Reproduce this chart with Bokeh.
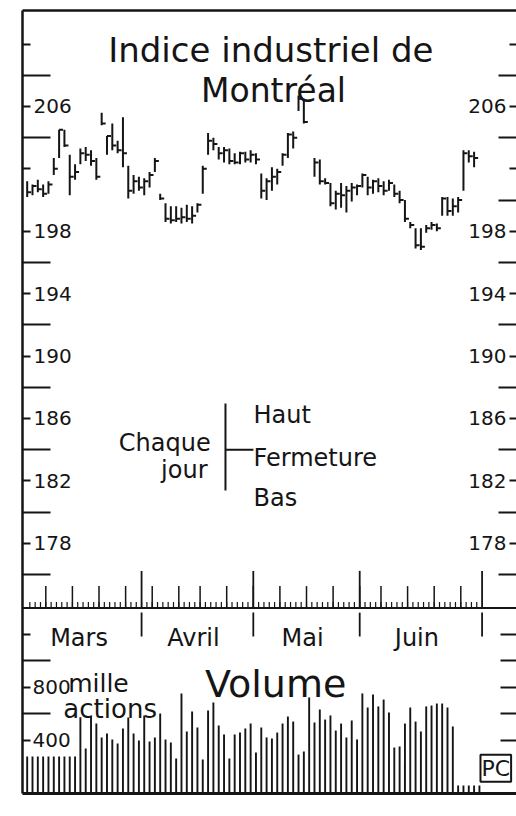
import numpy as np
from bokeh.plotting import figure
from bokeh.models import (Range1d, LinearAxis, FixedTicker, CustomJSTickFormatter,
                          ColumnDataSource, Span, Label, Arrow, Grid)
from bokeh.core.properties import value
from bokeh.embed import file_html
from bokeh.resources import INLINE

# ---------------- data ----------------
months = ["Mars", "Avril", "Mai", "Juin"]
month_days = [22, 21, 20, 23]                      # trading days per month
week_days = [4, 5, 5, 5, 5, 5, 4, 5, 5, 5, 5, 5, 5, 4, 5, 5, 5, 4]

high = [201.2, 201.0, 201.3, 201.0, 201.2, 202.7, 204.5, 204.5, 202.9, 202.3,
        203.3, 203.4, 203.2, 202.7, 205.6, 204.1, 204.9, 203.8, 205.3, 202.2,
        201.6, 201.5, 201.4, 201.8, 202.7, 200.4, 199.8, 199.6, 199.6, 199.5,
        199.7, 199.6, 199.8, 202.2, 204.3, 204.0, 203.4, 203.4, 203.3, 203.0,
        203.1, 203.1, 203.2, 203.0, 201.7, 201.4, 202.1, 202.0, 203.0, 204.3,
        204.4, 206.7, 206.5, None, 202.7, 202.6, 201.4, 201.1, 200.6, 201.1,
        200.9, 201.1, 201.0, 201.7, 201.5, 201.3, 201.4, 201.2, 201.3, 201.0,
        200.6, 200.0, 198.6, 198.2, 198.2, 198.4, 198.6, 198.5, 200.2, 200.2,
        200.1, 200.2, 203.2, 203.2, 203.1, None]
low = [200.2, 200.3, 200.5, 200.2, 200.4, 201.6, 202.7, 203.4, 200.3, 201.3,
       202.3, 202.5, 202.2, 201.3, 204.8, 202.9, 203.2, 203.0, 202.1, 200.1,
       200.4, 200.6, 200.3, 200.8, 201.8, 200.0, 198.6, 198.5, 198.6, 198.5,
       198.6, 198.5, 199.2, 200.4, 202.9, 203.2, 202.6, 202.4, 202.3, 202.3,
       202.3, 202.4, 202.4, 202.3, 200.1, 200.0, 200.6, 201.0, 202.2, 202.7,
       203.3, 205.7, 204.9, None, 201.5, 201.0, 201.0, 199.6, 199.4, 199.5,
       199.2, 199.9, 200.3, 200.8, 200.3, 200.4, 200.5, 200.3, 200.6, 200.2,
       199.8, 198.6, 198.2, 196.9, 196.8, 197.9, 198.1, 198.0, 199.0, 199.0,
       199.0, 199.2, 200.6, 202.4, 202.1, None]
close = [200.5, 200.9, 200.7, 200.4, 201.0, 202.0, 204.5, 203.5, 201.5, 201.8,
         203.0, 202.9, 202.5, 201.5, 204.9, 204.1, 203.5, 203.2, 203.0, 200.6,
         201.2, 200.8, 201.2, 201.6, 202.5, 200.1, 198.8, 198.7, 198.8, 198.9,
         198.8, 199.0, 199.7, 202.0, 203.8, 203.6, 203.0, 203.2, 202.5, 202.4,
         203.0, 202.6, 202.9, 202.6, 200.6, 201.2, 201.5, 201.8, 202.9, 204.2,
         204.0, 206.5, 205.0, None, 202.4, 201.2, 201.1, 199.8, 200.4, 200.3,
         200.6, 200.8, 200.9, 201.6, 200.8, 201.2, 200.9, 200.6, 201.1, 200.4,
         200.0, 198.8, 198.4, 197.1, 197.0, 198.2, 198.4, 198.2, 200.1, 199.3,
         199.6, 200.0, 203.0, 202.8, 202.7, None]
volume = [280, 280, 280, 280, 280, 280, 280, 280, 280, 280,
          576, 340, 581, 528, 423, 453, 408, 377, 490, 574,
          453, 400, 589, 392, 423, 604, 408, 385, 264, 755,
          468, 619, 498, 257, 626, 687, 513, 445, 264, 445,
          460, 490, 528, 309, 498, 423, 415, 460, 528, 581,
          543, 294, 317, 725, 536, 634, 558, 589, 475, 528,
          423, 551, 408, 755, 649, 747, 657, 709, 611, 347,
          355, 528, 649, 543, 468, 657, 664, 679, 679, 649,
          506, 60, 60, 60, 60, 60]                 # milliers d'actions

price_labels = [206, 198, 194, 190, 186, 182, 178]
price_short_ticks = [178, 182, 186, 190, 194, 198, 202, 206, 210]
price_long_ticks_left = [176, 180, 184, 188, 192, 196, 204, 208]
price_long_ticks_right = [176, 180, 184, 188, 192, 196, 200, 204, 208]
vol_labels = [400, 800]
vol_short_ticks = [400, 800, 1200]
vol_long_ticks = [600, 1000]
vol_right_ticks = [400, 600, 800, 1000, 1200]
vol_panel_top = 1400

# ---------------- layout constants ----------------
X_START, X_END = -0.88, 91.97
P_MIN, P_MAX = 161.96, 212.15
V_MIN, V_MAX = 0, 5909
INK = "#151515"
FONT = "DejaVu Sans"

n = len(volume)
days = np.arange(n)
to_num = lambda a: np.array([np.nan if v is None else v for v in a], dtype=float)
hi, lo, cl = to_num(high), to_num(low), to_num(close)

p = figure(width=516, height=800,
           x_range=Range1d(X_START, X_END), y_range=Range1d(P_MIN, P_MAX),
           output_backend="svg", toolbar_location=None,
           x_axis_location=None, y_axis_location=None,
           min_border_left=22, min_border_right=0, min_border_top=10, min_border_bottom=7,
           outline_line_color=None, background_fill_color="white",
           border_fill_color="white")
p.extra_y_ranges = {"vol": Range1d(V_MIN, V_MAX)}
p.center = [c for c in p.center if not isinstance(c, Grid)]

blank = CustomJSTickFormatter(code="return ''")


def frame_axis(ticks, minor, tin, minor_in, line=True, rng="default", lw=2.5):
    return LinearAxis(y_range_name=rng,
                      ticker=FixedTicker(ticks=ticks, minor_ticks=minor),
                      formatter=blank, major_label_standoff=0,
                      major_tick_in=tin, major_tick_out=0,
                      minor_tick_in=minor_in, minor_tick_out=0,
                      major_tick_line_width=2, minor_tick_line_width=2,
                      major_tick_line_color=INK, minor_tick_line_color=INK,
                      axis_line_color=INK if line else None, axis_line_width=lw)


p.add_layout(frame_axis(price_short_ticks, price_long_ticks_left, 8, 28), "left")
p.add_layout(frame_axis(vol_short_ticks, vol_long_ticks, 8, 28, line=False, rng="vol"), "left")
p.add_layout(frame_axis(price_short_ticks, price_long_ticks_right, 7, 18, line=False), "right")
p.add_layout(frame_axis(vol_right_ticks, [], 16, 0, line=False, rng="vol"), "right")
top_ax = LinearAxis(ticker=FixedTicker(ticks=[]), formatter=blank, major_label_standoff=0,
                    axis_line_color=INK, axis_line_width=2.5)
bot_ax = LinearAxis(ticker=FixedTicker(ticks=[]), formatter=blank, major_label_standoff=0,
                    axis_line_color=INK, axis_line_width=3)
p.add_layout(top_ax, "above")
p.add_layout(bot_ax, "below")

# separator between price and volume panels
p.add_layout(Span(location=vol_panel_top, dimension="width", y_range_name="vol",
                  line_color=INK, line_width=2))

# ---------------- price bars (high-low, close tick) ----------------
psrc = ColumnDataSource(dict(d=days, d2=days + 0.75, hi=hi, lo=lo, c=cl))
p.segment(x0="d", y0="lo", x1="d", y1="hi", source=psrc, line_color=INK, line_width=2)
p.segment(x0="d", y0="c", x1="d2", y1="c", source=psrc, line_color=INK, line_width=2)

# ---------------- volume bars ----------------
vsrc = ColumnDataSource(dict(d=days, v=volume))
p.vbar(x="d", top="v", bottom=0, width=0.36, source=vsrc, y_range_name="vol",
       fill_color=INK, line_color=None)

# ---------------- day / week / month ruler ----------------
day_b = days[:-1] + 0.5
week_b = np.cumsum(week_days)[:-1] - 0.5
month_end = np.cumsum(month_days) - 0.5
month_start = np.concatenate([[-0.5], month_end[:-1]])
p.segment(x0=day_b, x1=day_b, y0=vol_panel_top, y1=vol_panel_top + 45,
          y_range_name="vol", line_color=INK, line_width=1.2)
p.segment(x0=week_b, x1=week_b, y0=vol_panel_top, y1=vol_panel_top + 165,
          y_range_name="vol", line_color=INK, line_width=1.5)
p.segment(x0=month_end, x1=month_end, y0=vol_panel_top, y1=vol_panel_top + 280,
          y_range_name="vol", line_color=INK, line_width=1.8)
p.segment(x0=month_end, x1=month_end, y0=vol_panel_top - 35, y1=vol_panel_top - 215,
          y_range_name="vol", line_color=INK, line_width=1.8)
p.text(x=(month_start + month_end) / 2, y=1177, text=months, y_range_name="vol",
       x_offset=-4, text_align="center", text_baseline="alphabetic",
       text_font=value(FONT), text_font_size="24px", text_color=INK)

# ---------------- tick labels (drawn inside the frame) ----------------
lab_kw = dict(text_font=value(FONT), text_font_size="20px", text_color=INK,
              text_baseline="middle")
pl = ColumnDataSource(dict(y=price_labels, t=[str(v) for v in price_labels]))
p.text(x=X_START, y="y", text="t", source=pl, x_offset=11, text_align="left", **lab_kw)
p.text(x=X_END, y="y", text="t", source=pl, x_offset=-10, text_align="right", **lab_kw)
vl = ColumnDataSource(dict(y=vol_labels, t=[str(v) for v in vol_labels]))
p.text(x=X_START, y="y", text="t", source=vl, x_offset=10, text_align="left",
       y_range_name="vol", **lab_kw)

# ---------------- titles and notes ----------------
def lab(x, y, text, size, align="left", rng="default", **kw):
    p.add_layout(Label(x=x, y=y, text=text, y_range_name=rng, text_align=align,
                       text_baseline="alphabetic", text_font=FONT,
                       text_font_size=size, text_color=INK, **kw))

lab(45.8, 209.6, "Indice industriel de", "34px", "center")
lab(46.3, 207.0, "Montréal", "33px", "center")
lab(46.7, 830, "Volume", "38px", "center", "vol")
lab(7.7, 830, "mille", "25px", "left", "vol")
lab(6.8, 641, "actions", "26px", "left", "vol")

# legend key: Haut / Fermeture / Bas
KX, KX2 = 37.27, 42.53
p.add_layout(Arrow(end=None, x_start=KX, y_start=186.96, x_end=KX, y_end=181.38,
                   line_color=INK, line_width=2))
p.add_layout(Arrow(end=None, x_start=KX, y_start=184.0, x_end=KX2, y_end=184.0,
                   line_color=INK, line_width=2))
lab(KX2, 186.2, "Haut", "24px")
lab(KX2, 183.45, "Fermeture", "24px")
lab(KX2, 180.9, "Bas", "24px")
lab(34.5, 184.4, "Chaque", "24px", "right")
lab(33.9, 182.7, "jour", "24px", "right")

p.add_layout(Label(x=85.2, y=88, y_range_name="vol", text="PC", text_font=FONT,
                   text_font_size="22px", text_color=INK, text_baseline="bottom",
                   border_line_color=INK, border_line_width=2, padding=1))

open("out.html", "w").write(file_html(p, INLINE))
